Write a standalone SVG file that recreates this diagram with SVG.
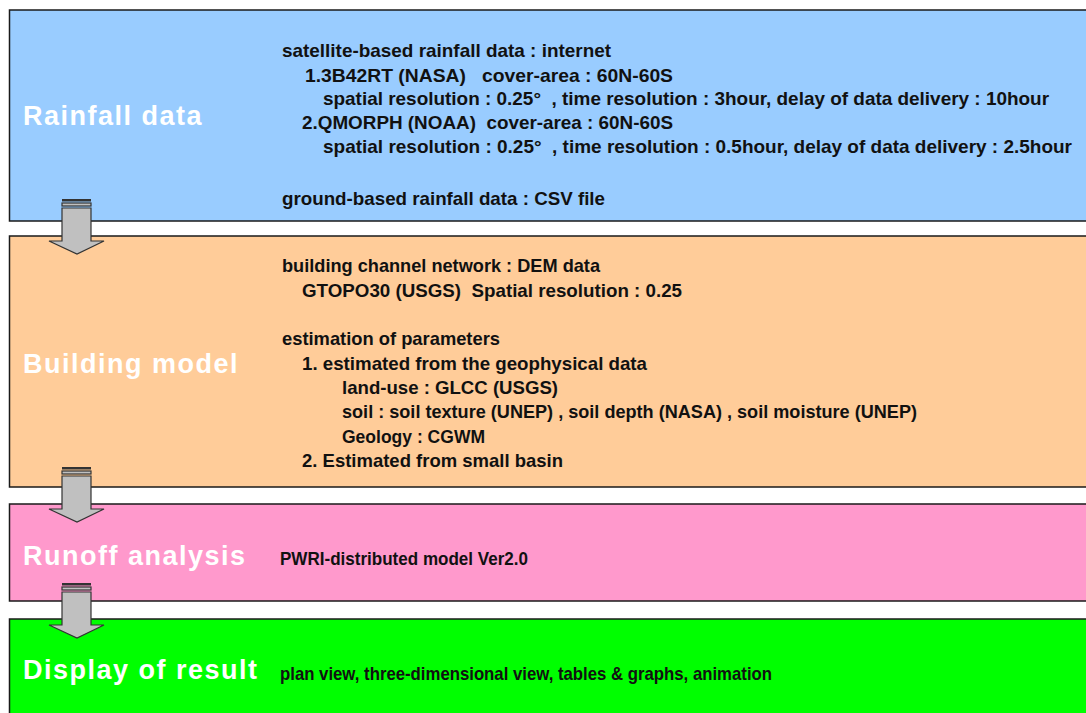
<svg xmlns="http://www.w3.org/2000/svg" width="1086" height="713" viewBox="0 0 1086 713">
<style>
.box{stroke:#1a1a1a;stroke-width:1.5}
.title{font-family:"Liberation Sans",Arial,sans-serif;font-weight:bold;font-size:27px;fill:#ffffff;letter-spacing:1.5px}
.body{font-family:"Liberation Sans",Arial,sans-serif;font-weight:bold;font-size:18.5px;fill:#111111}
.arrow{fill:#c0c0c0;stroke:#333333;stroke-width:1.2;stroke-linejoin:miter}
.bar{fill:#333333}
</style>
<defs>
<g id="blockArrow">
<rect class="bar" x="62" y="0" width="29" height="2.5"/>
<rect class="arrow" x="62" y="4" width="29" height="3"/>
<polygon class="arrow" points="62,9 91,9 91,42 104,42 77,55 49,42 62,42"/>
</g>
</defs>
<rect width="1086" height="713" fill="#ffffff"/>
<g id="node-rainfall">
<rect class="box" x="9.5" y="10" width="1090" height="211" fill="#99ccff"/>
<text class="title" x="23" y="125">Rainfall data</text>
<text class="body" x="282" y="57" textLength="329" lengthAdjust="spacingAndGlyphs">satellite-based rainfall data : internet</text>
<text class="body" x="305" y="82" textLength="368" lengthAdjust="spacingAndGlyphs" xml:space="preserve">1.3B42RT (NASA)   cover-area : 60N-60S</text>
<text class="body" x="323" y="105" textLength="726" lengthAdjust="spacingAndGlyphs" xml:space="preserve">spatial resolution : 0.25°  , time resolution : 3hour, delay of data delivery : 10hour</text>
<text class="body" x="302" y="129" textLength="371" lengthAdjust="spacingAndGlyphs" xml:space="preserve">2.QMORPH (NOAA)  cover-area : 60N-60S</text>
<text class="body" x="323" y="153" textLength="749" lengthAdjust="spacingAndGlyphs" xml:space="preserve">spatial resolution : 0.25°  , time resolution : 0.5hour, delay of data delivery : 2.5hour</text>
<text class="body" x="282" y="205" textLength="323" lengthAdjust="spacingAndGlyphs">ground-based rainfall data : CSV file</text>
</g>
<g id="node-building">
<rect class="box" x="9.5" y="236" width="1090" height="251" fill="#ffcc99"/>
<text class="title" x="23" y="373">Building model</text>
<text class="body" x="282" y="272" textLength="318" lengthAdjust="spacingAndGlyphs">building channel network : DEM data</text>
<text class="body" x="302" y="297" textLength="380" lengthAdjust="spacingAndGlyphs" xml:space="preserve">GTOPO30 (USGS)  Spatial resolution : 0.25</text>
<text class="body" x="282" y="345" textLength="218" lengthAdjust="spacingAndGlyphs">estimation of parameters</text>
<text class="body" x="302" y="370" textLength="345" lengthAdjust="spacingAndGlyphs">1. estimated from the geophysical data</text>
<text class="body" x="342" y="394" textLength="216" lengthAdjust="spacingAndGlyphs">land-use : GLCC (USGS)</text>
<text class="body" x="342" y="418" textLength="575" lengthAdjust="spacingAndGlyphs">soil : soil texture (UNEP) , soil depth (NASA) , soil moisture (UNEP)</text>
<text class="body" x="342" y="443" textLength="143" lengthAdjust="spacingAndGlyphs">Geology : CGWM</text>
<text class="body" x="302" y="467" textLength="261" lengthAdjust="spacingAndGlyphs">2. Estimated from small basin</text>
</g>
<g id="node-runoff">
<rect class="box" x="9.5" y="504" width="1090" height="97" fill="#ff99cc"/>
<text class="title" x="23" y="565">Runoff analysis</text>
<text class="body" x="280" y="565" textLength="248" lengthAdjust="spacingAndGlyphs">PWRI-distributed model Ver2.0</text>
</g>
<g id="node-display">
<rect class="box" x="9.5" y="619" width="1090" height="110" fill="#00ff00"/>
<text class="title" x="23" y="679">Display of result</text>
<text class="body" x="280" y="680" textLength="492" lengthAdjust="spacingAndGlyphs">plan view, three-dimensional view, tables &amp; graphs, animation</text>
</g>
<g id="connectors">
<use href="#blockArrow" transform="translate(0,199)"/>
<use href="#blockArrow" transform="translate(0,467)"/>
<use href="#blockArrow" transform="translate(0,583)"/>
</g>
</svg>
